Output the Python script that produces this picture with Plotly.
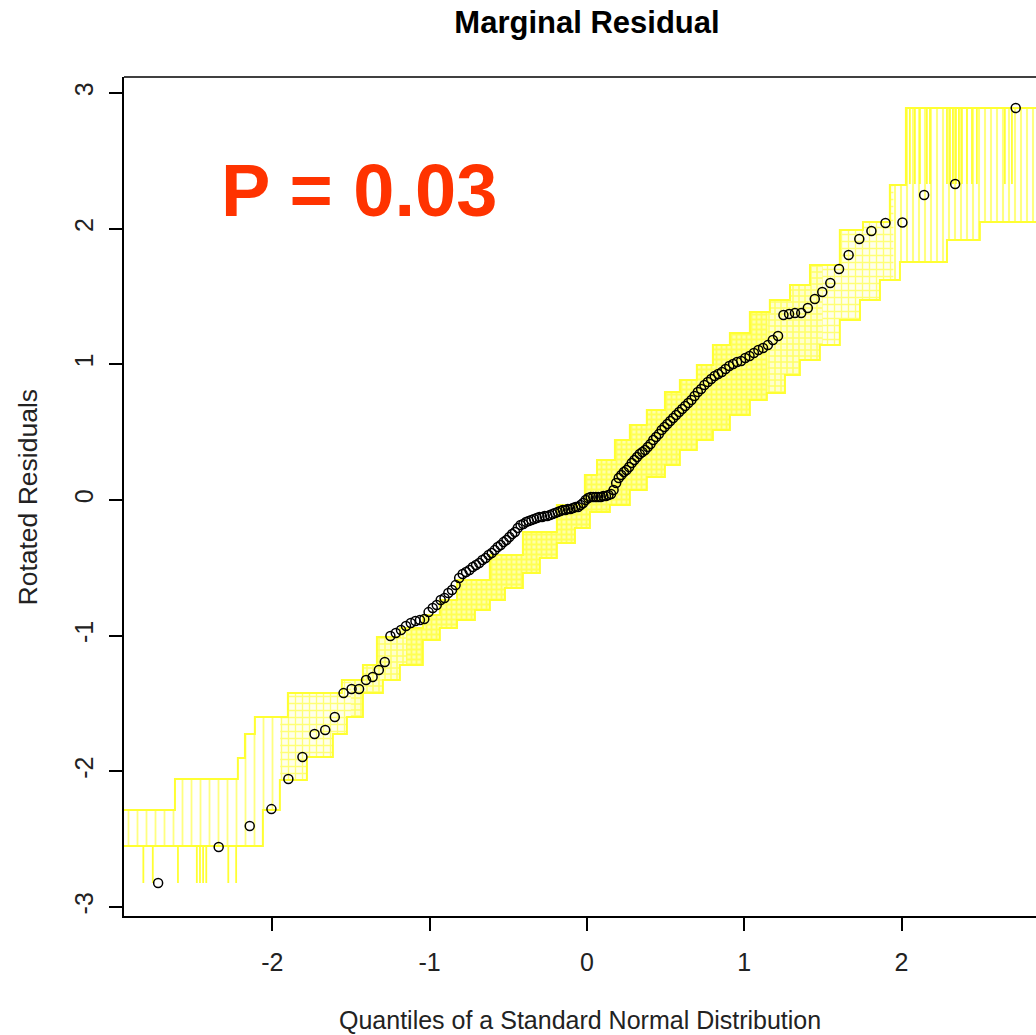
import statistics
import plotly.graph_objects as go

# Sorted rotated residuals (observed), one per observation
residuals = [
    -2.823, -2.558, -2.403, -2.278, -2.056, -1.894, -1.725, -1.695, -1.599, -1.423,
    -1.393, -1.393, -1.327, -1.305, -1.253, -1.194, -1.002, -0.980, -0.958, -0.929,
    -0.907, -0.892, -0.884, -0.877, -0.826, -0.796, -0.774, -0.737, -0.722, -0.685,
    -0.663, -0.627, -0.575, -0.545, -0.531, -0.516, -0.494, -0.479, -0.464, -0.442,
    -0.428, -0.405, -0.391, -0.369, -0.346, -0.332, -0.310, -0.295, -0.273, -0.251,
    -0.236, -0.206, -0.184, -0.177, -0.162, -0.155, -0.147, -0.140, -0.133, -0.125,
    -0.125, -0.118, -0.118, -0.111, -0.103, -0.096, -0.088, -0.081, -0.074, -0.074,
    -0.066, -0.066, -0.059, -0.052, -0.052, -0.037, -0.022, 0.000, 0.015, 0.022,
    0.022, 0.022, 0.022, 0.022, 0.029, 0.029, 0.037, 0.044, 0.074, 0.125,
    0.162, 0.184, 0.206, 0.221, 0.243, 0.273, 0.295, 0.317, 0.339, 0.354,
    0.369, 0.391, 0.413, 0.442, 0.464, 0.486, 0.516, 0.538, 0.560, 0.582,
    0.604, 0.627, 0.649, 0.671, 0.693, 0.715, 0.737, 0.767, 0.796, 0.818,
    0.848, 0.870, 0.892, 0.914, 0.929, 0.943, 0.966, 0.988, 1.002, 1.017,
    1.025, 1.047, 1.061, 1.084, 1.106, 1.120, 1.142, 1.179, 1.209, 1.364,
    1.371, 1.378, 1.378, 1.415, 1.482, 1.533, 1.600, 1.703, 1.806, 1.924,
    1.983, 2.042, 2.045, 2.248, 2.329, 2.889,
]

# Simulation envelope: step boundaries (x, level) of the simulated QQ lines
env_lower_x = [-2.943, -2.060, -1.952, -1.780, -1.615, -1.526, -1.424, -1.297, -1.189, -1.043,
               -0.935, -0.826, -0.712, -0.617, -0.521, -0.407, -0.299, -0.191, -0.076, 0.019,
               0.146, 0.273, 0.381, 0.496, 0.591, 0.699, 0.801, 0.909, 1.036, 1.144,
               1.259, 1.354, 1.481, 1.608, 1.736, 1.863, 1.990, 2.289, 2.498, 2.855]
env_lower_y = [-2.550, -2.285, -2.064, -1.894, -1.725, -1.599, -1.423, -1.327, -1.216, -1.032,
               -0.943, -0.884, -0.811, -0.737, -0.649, -0.538, -0.428, -0.317, -0.206, -0.088,
               -0.037, 0.074, 0.170, 0.258, 0.369, 0.442, 0.516, 0.627, 0.737, 0.789,
               0.921, 1.032, 1.142, 1.327, 1.474, 1.622, 1.754, 1.916, 2.049, 2.049]
env_upper_x = [-2.943, -2.619, -2.219, -2.174, -2.111, -1.901, -1.558, -1.424, -1.335, -1.189,
               -1.043, -0.935, -0.826, -0.617, -0.407, -0.191, -0.013, 0.064, 0.178, 0.273,
               0.381, 0.496, 0.591, 0.699, 0.801, 0.909, 1.036, 1.163, 1.291, 1.418,
               1.608, 1.755, 1.926, 2.028, 2.855]
env_upper_y = [-2.285, -2.056, -1.902, -1.725, -1.599, -1.423, -1.327, -1.216, -1.010, -0.943,
               -0.848, -0.737, -0.590, -0.405, -0.236, -0.037, 0.184, 0.295, 0.442, 0.553,
               0.663, 0.796, 0.885, 0.995, 1.142, 1.231, 1.386, 1.474, 1.585, 1.732,
               1.990, 2.049, 2.322, 2.889, 2.889]

# Extreme simulated steps in the tails (x position of each vertical jump)
low_tail_x = [-2.82, -2.76, -2.60, -2.48, -2.46, -2.44, -2.42, -2.28, -2.23]
low_tail_from, low_tail_to = -2.550, -2.823
high_tail_x = [2.028, 2.053, 2.085, 2.117, 2.161, 2.181, 2.289, 2.308, 2.327, 2.346,
               2.365, 2.384, 2.416, 2.448, 2.479, 2.657, 2.702]
high_tail_from, high_tail_to = 2.329, 2.889

x_ticks = [-2, -1, 0, 1, 2]
x_tick_text = ["-2", "-1", "0", "1", "2"]
y_ticks = [-3, -2, -1, 0, 1, 2, 3]
y_tick_text = ["-3", "-2", "-1", "0", "1", "2", "3"]

n = len(residuals)
nd = statistics.NormalDist()
theoretical = [nd.inv_cdf((i + 0.5) / n) for i in range(n)]

YELLOW = "rgb(255,255,0)"
LINE_YELLOW = "rgb(255,255,50)"
FONT = "Liberation Sans, Arial, sans-serif"


def clip_steps(xs, ys, a, b):
    """Restrict a left-continuous step function to the interval [a, b]."""
    val = ys[0]
    for x, y in zip(xs, ys):
        if x <= a:
            val = y
    ox, oy = [a], [val]
    for x, y in zip(xs, ys):
        if a < x < b:
            ox.append(x)
            oy.append(y)
    ox.append(b)
    oy.append(oy[-1])
    return ox, oy


fig = go.Figure()

# Envelope texture: sparse in the tails, dense in the centre
x_lo, x_hi = env_lower_x[0], env_lower_x[-1]
pieces = [
    (x_lo, -1.95, dict(shape="|", size=9, solidity=0.2, bgcolor="white")),
    (-1.95, -1.50, dict(shape="+", size=7, solidity=0.35, bgcolor="rgb(255,255,235)")),
    (-1.50, -1.15, dict(shape="+", size=6, solidity=0.45, bgcolor="rgb(255,255,205)")),
    (-1.15, 1.15, dict(shape="+", size=5, solidity=0.6, bgcolor="rgb(255,255,170)")),
    (1.15, 1.50, dict(shape="+", size=6, solidity=0.45, bgcolor="rgb(255,255,205)")),
    (1.50, 1.95, dict(shape="+", size=7, solidity=0.35, bgcolor="rgb(255,255,235)")),
    (1.95, x_hi, dict(shape="|", size=6, solidity=0.35, bgcolor="white")),
]
for a, b, pat in pieces:
    lx, ly = clip_steps(env_lower_x, env_lower_y, a, b)
    ux, uy = clip_steps(env_upper_x, env_upper_y, a, b)
    fig.add_trace(go.Scatter(x=lx, y=ly, mode="lines", line_shape="hv",
                             line=dict(width=0), hoverinfo="skip"))
    fig.add_trace(go.Scatter(x=ux, y=uy, mode="lines", line_shape="hv",
                             line=dict(width=0), fill="tonexty",
                             fillcolor="rgba(255,255,255,0)",
                             fillpattern=dict(fgcolor=YELLOW, **pat),
                             hoverinfo="skip"))

for xs, ys in [(env_lower_x, env_lower_y), (env_upper_x, env_upper_y)]:
    fig.add_trace(go.Scatter(x=xs, y=ys, mode="lines", line_shape="hv",
                             line=dict(color=LINE_YELLOW, width=2), hoverinfo="skip"))


def segments(xs, y0, y1):
    sx, sy = [], []
    for v in xs:
        sx += [v, v, None]
        sy += [y0, y1, None]
    return sx, sy


for xs, a, b in [(low_tail_x, low_tail_from, low_tail_to),
                 (high_tail_x, high_tail_from, high_tail_to)]:
    sx, sy = segments(xs, a, b)
    fig.add_trace(go.Scatter(x=sx, y=sy, mode="lines",
                             line=dict(color=LINE_YELLOW, width=1.8), hoverinfo="skip"))

fig.add_trace(go.Scatter(x=theoretical, y=residuals, mode="markers",
                         marker=dict(symbol="circle-open", size=9, color="black",
                                     line=dict(width=1.5, color="black"))))

fig.add_annotation(x=-2.34, y=2.28, xref="x", yref="y", text="<b>P = 0.03</b>",
                   showarrow=False, xanchor="left", yanchor="middle",
                   font=dict(family=FONT, size=74, color="rgb(255,51,0)"))

fig.add_annotation(x=0.5, y=-0.124, xref="paper", yref="paper",
                   xanchor="center", yanchor="middle",
                   text="Quantiles of a Standard Normal Distribution", showarrow=False,
                   font=dict(family=FONT, size=25, color="#222"))
fig.add_annotation(x=-0.1053, y=0.5, xref="paper", yref="paper", textangle=-90,
                   xanchor="center", yanchor="middle",
                   text="Rotated Residuals", showarrow=False,
                   font=dict(family=FONT, size=26.5, color="#222"))

fig.add_shape(type="line", xref="paper", yref="paper", x0=0, x1=1, y0=1, y1=1,
              line=dict(color="black", width=1.5))

axis_common = dict(showline=True, linecolor="black", linewidth=1.5, ticks="outside",
                   ticklen=13, tickwidth=1.5, tickcolor="black", showgrid=False,
                   zeroline=False, tickfont=dict(family=FONT, size=25, color="#222"))

fig.update_layout(
    width=1036, height=1035,
    margin=dict(l=124, r=0, t=77, b=119),
    paper_bgcolor="white", plot_bgcolor="white",
    showlegend=False,
    title=dict(text="<b>Marginal Residual</b>", x=587 / 1036, xanchor="center",
               y=1 - 22 / 1035, yanchor="middle", yref="container",
               font=dict(family=FONT, size=31, color="black")),
    xaxis=dict(range=[-2.943, 2.855], tickvals=x_ticks, ticktext=x_tick_text,
               ticklabelstandoff=10, **axis_common),
    yaxis=dict(range=[-3.066, 3.118], tickvals=y_ticks, ticktext=y_tick_text,
               tickangle=-90, ticklabelstandoff=6, **axis_common),
)

fig.write_html("out.html")
